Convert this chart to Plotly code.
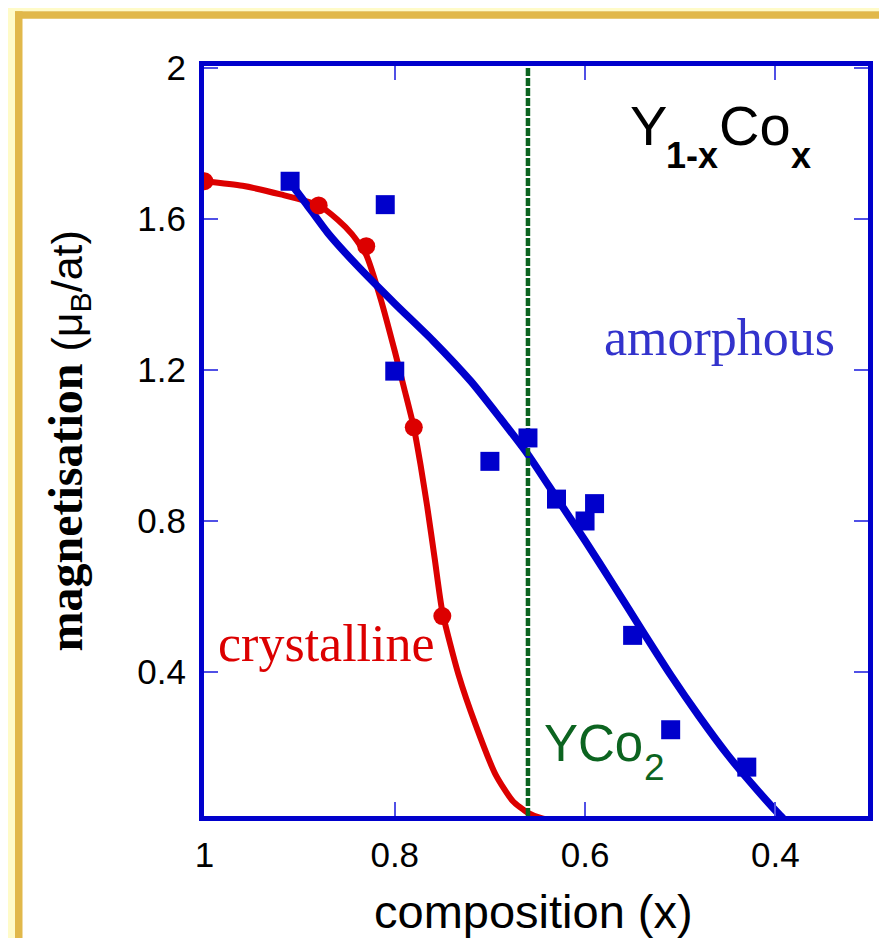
import plotly.graph_objects as go

# ---------------- data ----------------
cryst_x = [1.00, 0.88, 0.83, 0.78, 0.75]
cryst_y = [1.70, 1.636, 1.528, 1.048, 0.548]

amor_x = [0.91, 0.81, 0.80, 0.70, 0.66, 0.63, 0.60, 0.59, 0.55, 0.51, 0.43]
amor_y = [1.70, 1.638, 1.197, 0.958, 1.02, 0.858, 0.80, 0.846, 0.497, 0.247, 0.148]

cryst_fit_x = [1.000, 0.960, 0.920, 0.880, 0.860, 0.845, 0.830, 0.815, 0.800, 0.790,
               0.780, 0.773, 0.766, 0.758, 0.750, 0.733, 0.715, 0.694, 0.676, 0.660,
               0.645, 0.636]
cryst_fit_y = [1.700, 1.688, 1.665, 1.636, 1.598, 1.560, 1.505, 1.390, 1.250, 1.150,
               1.048, 0.950, 0.840, 0.700, 0.560, 0.393, 0.260, 0.128, 0.058, 0.027,
               0.012, 0.008]

amor_fit_x = [0.911, 0.893, 0.870, 0.840, 0.800, 0.760, 0.720, 0.690, 0.660, 0.630,
              0.600, 0.570, 0.540, 0.510, 0.480, 0.450, 0.420, 0.395, 0.385]
amor_fit_y = [1.700, 1.640, 1.562, 1.478, 1.376, 1.278, 1.170, 1.075, 0.976, 0.862,
              0.748, 0.630, 0.510, 0.392, 0.282, 0.180, 0.090, 0.020, -0.005]

yco2_x = 0.66

x_tickvals = [1.0, 0.8, 0.6, 0.4]
x_ticktext = ["1", "0.8", "0.6", "0.4"]
y_tickvals = [0.4, 0.8, 1.2, 1.6, 2.0]
y_ticktext = ["0.4", "0.8", "1.2", "1.6", "2"]

x_range = [1.0005, 0.3026]
y_range = [0.0185, 2.0053]

# ---------------- styling ----------------
W, H = 887, 938
ML, MR, MT, MB = 196, 27, 58, 130
PW, PH = W - ML - MR, H - MT - MB

def xp(px):
    return (px - ML) / PW

def yp(py):
    return (H - MB - py) / PH

SANS = "Liberation Sans, Arial, sans-serif"
SERIF = "Liberation Serif, Times New Roman, serif"
RED = "rgb(220,0,0)"
BLUE = "rgb(0,0,204)"
GREEN = "rgb(12,100,32)"
GOLD = "rgb(225,184,74)"
PALE = "rgb(255,251,200)"

fig = go.Figure()

fig.add_trace(go.Scatter(x=cryst_fit_x, y=cryst_fit_y, mode="lines",
                         line=dict(color=RED, width=6, shape="spline", smoothing=0.6),
                         hoverinfo="skip", showlegend=False))
fig.add_trace(go.Scatter(x=amor_fit_x, y=amor_fit_y, mode="lines",
                         line=dict(color=BLUE, width=7.5, shape="spline", smoothing=0.6),
                         hoverinfo="skip", showlegend=False))
fig.add_trace(go.Scatter(x=[yco2_x, yco2_x], y=y_range, mode="lines",
                         line=dict(color=GREEN, width=4.5, dash="8px,2px"),
                         hoverinfo="skip", showlegend=False))
fig.add_trace(go.Scatter(x=amor_x, y=amor_y, mode="markers",
                         marker=dict(symbol="square", size=19, color=BLUE),
                         showlegend=False))
fig.add_trace(go.Scatter(x=cryst_x, y=cryst_y, mode="markers",
                         marker=dict(symbol="circle", size=18, color=RED),
                         showlegend=False))

axis_common = dict(
    showgrid=False, zeroline=False, showline=True, mirror="ticks",
    linecolor=BLUE, linewidth=5, ticks="inside", ticklen=14, tickwidth=1.5,
    tickcolor="rgb(80,80,230)", tickfont=dict(family=SANS, size=35, color="black"),
)

fig.update_xaxes(range=x_range, tickvals=x_tickvals, ticktext=x_ticktext,
                 ticklabelstandoff=4, **axis_common)
fig.update_yaxes(range=y_range, tickvals=y_tickvals, ticktext=y_ticktext,
                 ticklabelstandoff=6, **axis_common)

shapes = [
    dict(type="rect", xref="paper", yref="paper", x0=xp(0), x1=xp(7), y0=yp(0), y1=yp(H),
         fillcolor=PALE, line_width=0, layer="below"),
    dict(type="rect", xref="paper", yref="paper", x0=xp(0), x1=xp(W), y0=yp(0), y1=yp(3.3),
         fillcolor=PALE, line_width=0, layer="below"),
    dict(type="rect", xref="paper", yref="paper", x0=xp(7), x1=xp(14.5), y0=yp(3.3), y1=yp(H),
         fillcolor=GOLD, line_width=0, layer="below"),
    dict(type="rect", xref="paper", yref="paper", x0=xp(7), x1=xp(W), y0=yp(3.3), y1=yp(10.7),
         fillcolor=GOLD, line_width=0, layer="below"),
    dict(type="rect", xref="paper", yref="paper", x0=xp(7), x1=xp(W), y0=yp(932.5), y1=yp(937),
         fillcolor=GOLD, line_width=0, layer="below"),
    dict(type="rect", xref="paper", yref="paper", x0=xp(0), x1=xp(W), y0=yp(937), y1=yp(H),
         fillcolor=PALE, line_width=0, layer="below"),
]

MAIN = dict(family=SANS, size=56, color="black")
SUBF = dict(family=SANS, size=36, color="black")

annotations = [
    # Y(1-x)Co(x) formula, subscripts set lower as in the original
    dict(text="Y", x=xp(620), y=yp(117.6), xanchor="left", yanchor="middle", font=MAIN),
    dict(text="<b>1-x</b>", x=xp(656), y=yp(147.5), xanchor="left", yanchor="middle", font=SUBF),
    dict(text="Co", x=xp(709), y=yp(117.6), xanchor="left", yanchor="middle", font=MAIN),
    dict(text="<b>x</b>", x=xp(781), y=yp(147.5), xanchor="left", yanchor="middle", font=SUBF),
    dict(text="amorphous", x=xp(594), y=yp(329.5), xanchor="left", yanchor="middle",
         font=dict(family=SERIF, size=52, color="rgb(51,51,204)")),
    dict(text="crystalline", x=xp(208), y=yp(635.5), xanchor="left", yanchor="middle",
         font=dict(family=SERIF, size=52, color=RED)),
    dict(text="YCo", x=xp(534), y=yp(735.3), xanchor="left", yanchor="middle",
         font=dict(family=SANS, size=51, color=GREEN)),
    dict(text="2", x=xp(634), y=yp(759.2), xanchor="left", yanchor="middle",
         font=dict(family=SANS, size=37, color=GREEN)),
    dict(text="composition (x)", x=xp(525), y=yp(903.7), xanchor="center", yanchor="middle",
         font=dict(family=SANS, size=47, color="black")),
    dict(text="<b>magnetisation</b> <span style='font-family:Liberation Sans,Arial;font-size:43px'>(μ<sub>B</sub>/at)</span>",
         x=xp(60), y=yp(433.5), xanchor="center", yanchor="middle", textangle=-90,
         font=dict(family=SERIF, size=48, color="black")),
]
for a in annotations:
    a.update(xref="paper", yref="paper", showarrow=False)

fig.update_layout(
    width=W, height=H, margin=dict(l=ML, r=MR, t=MT, b=MB, pad=0),
    paper_bgcolor="white", plot_bgcolor="white",
    shapes=shapes, annotations=annotations, showlegend=False,
)

fig.write_html("out.html")
